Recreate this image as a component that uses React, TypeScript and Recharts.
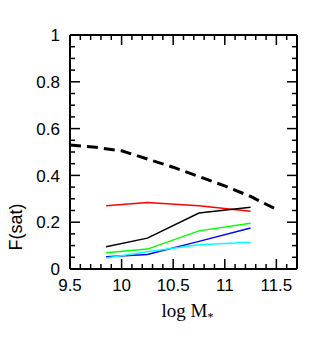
import { LineChart, Line, XAxis, YAxis } from 'recharts';

// stellar mass bins (log M*) for the coloured curves
const massBins = [9.85, 10.25, 10.75, 11.25];
const redFrac = [0.27, 0.284, 0.27, 0.247];
const blackFrac = [0.095, 0.132, 0.239, 0.264];
const greenFrac = [0.069, 0.085, 0.163, 0.196];
const blueFrac = [0.052, 0.062, 0.118, 0.175];
const cyanFrac = [0.047, 0.074, 0.104, 0.114];

// dashed model curve
const modelMass = [9.5, 9.75, 10, 10.25, 10.5, 10.75, 11, 11.25, 11.5];
const modelFrac = [0.53, 0.52, 0.505, 0.47, 0.435, 0.395, 0.355, 0.31, 0.255];

const xTicks = [9.5, 9.6, 9.7, 9.8, 9.9, 10, 10.1, 10.2, 10.3, 10.4, 10.5, 10.6, 10.7, 10.8, 10.9, 11, 11.1, 11.2, 11.3, 11.4, 11.5, 11.6, 11.7];
const xMajor = [9.5, 10, 10.5, 11, 11.5];
const yTicks = [0, 0.05, 0.1, 0.15, 0.2, 0.25, 0.3, 0.35, 0.4, 0.45, 0.5, 0.55, 0.6, 0.65, 0.7, 0.75, 0.8, 0.85, 0.9, 0.95, 1];
const yMajor = [0, 0.2, 0.4, 0.6, 0.8, 1];

const toRows = (xs: number[], ys: number[]) => xs.map((m, i) => ({ m, f: ys[i] }));

const series = [
  { color: '#ff0000', values: redFrac },
  { color: '#000000', values: blackFrac },
  { color: '#00ff00', values: greenFrac },
  { color: '#0000ff', values: blueFrac },
  { color: '#00ffff', values: cyanFrac },
];

const NUM_FONT = 'Liberation Sans, sans-serif';
const TITLE_FONT = 'Liberation Serif, serif';

const isMajor = (v: number, majors: number[]) => majors.some((m) => Math.abs(m - v) < 1e-6);

const BottomTick = (props: any) => {
  const { x, y, payload } = props;
  const major = isMajor(payload.value, xMajor);
  return (
    <g>
      <line x1={x} x2={x} y1={y} y2={y - (major ? 10 : 5)} stroke="#000" strokeWidth={1.5} />
      {major && (
        <text x={x} y={y + 22} textAnchor="middle" fontSize={17} fontFamily={NUM_FONT} fill="#000">
          {String(payload.value)}
        </text>
      )}
    </g>
  );
};

const TopTick = (props: any) => {
  const { x, y, payload } = props;
  const major = isMajor(payload.value, xMajor);
  return <line x1={x} x2={x} y1={y} y2={y + (major ? 10 : 5)} stroke="#000" strokeWidth={1.5} />;
};

const LeftTick = (props: any) => {
  const { x, y, payload } = props;
  const major = isMajor(payload.value, yMajor);
  return (
    <g>
      <line x1={x} x2={x + (major ? 10 : 5)} y1={y} y2={y} stroke="#000" strokeWidth={1.5} />
      {major && (
        <text x={x - 10} y={y} dy="0.36em" textAnchor="end" fontSize={17} fontFamily={NUM_FONT} fill="#000">
          {String(payload.value)}
        </text>
      )}
    </g>
  );
};

const RightTick = (props: any) => {
  const { x, y, payload } = props;
  const major = isMajor(payload.value, yMajor);
  return <line x1={x} x2={x - (major ? 10 : 5)} y1={y} y2={y} stroke="#000" strokeWidth={1.5} />;
};

const XTitle = (props: any) => {
  const vb = props.viewBox;
  return (
    <text x={vb.x + vb.width / 2 + 4} y={vb.y + 48} textAnchor="middle" fontSize={19} fontFamily={TITLE_FONT} fill="#000">
      log  M
      <tspan fontSize={12} dy={4}>*</tspan>
    </text>
  );
};

const YTitle = (props: any) => {
  const vb = props.viewBox;
  const cx = vb.x - 53;
  const cy = vb.y + vb.height * 0.82;
  return (
    <text x={cx} y={cy} transform={`rotate(-90 ${cx} ${cy})`} textAnchor="middle" dy="0.35em" fontSize={18} fontFamily={NUM_FONT} fill="#000">
      F(sat)
    </text>
  );
};

const axisLine = { stroke: '#000', strokeWidth: 2 };

export default function App() {
  return (
    <div style={{ position: 'fixed', left: 0, top: 0, width: 316, height: 345, background: '#fff' }}>
      <LineChart width={316} height={345} margin={{ top: 34, right: 18, bottom: 75, left: 69 }}>
        <XAxis xAxisId="b" type="number" dataKey="m" domain={[9.5, 11.7]} ticks={xTicks} interval={0}
          allowDataOverflow height={1} tickSize={0} tickMargin={0} tickLine={false} axisLine={axisLine}
          tick={BottomTick} label={<XTitle />} />
        <XAxis xAxisId="t" orientation="top" type="number" dataKey="m" domain={[9.5, 11.7]} ticks={xTicks} interval={0}
          allowDataOverflow height={1} tickSize={0} tickMargin={0} tickLine={false} axisLine={axisLine}
          tick={TopTick} />
        <YAxis yAxisId="l" type="number" domain={[0, 1]} ticks={yTicks} interval={0}
          allowDataOverflow width={1} tickSize={0} tickMargin={0} tickLine={false} axisLine={axisLine}
          tick={LeftTick} label={<YTitle />} />
        <YAxis yAxisId="r" orientation="right" type="number" domain={[0, 1]} ticks={yTicks} interval={0}
          allowDataOverflow width={1} tickSize={0} tickMargin={0} tickLine={false} axisLine={axisLine}
          tick={RightTick} />
        {series.map((s, i) => (
          <Line key={i} xAxisId="b" yAxisId="l" data={toRows(massBins, s.values)} dataKey="f" type="linear"
            stroke={s.color} strokeWidth={1.5} dot={false} isAnimationActive={false} />
        ))}
        <Line xAxisId="b" yAxisId="l" data={toRows(modelMass, modelFrac)} dataKey="f" type="linear"
          stroke="#000" strokeWidth={3} strokeDasharray="11 6" dot={false} isAnimationActive={false} />
      </LineChart>
    </div>
  );
}
